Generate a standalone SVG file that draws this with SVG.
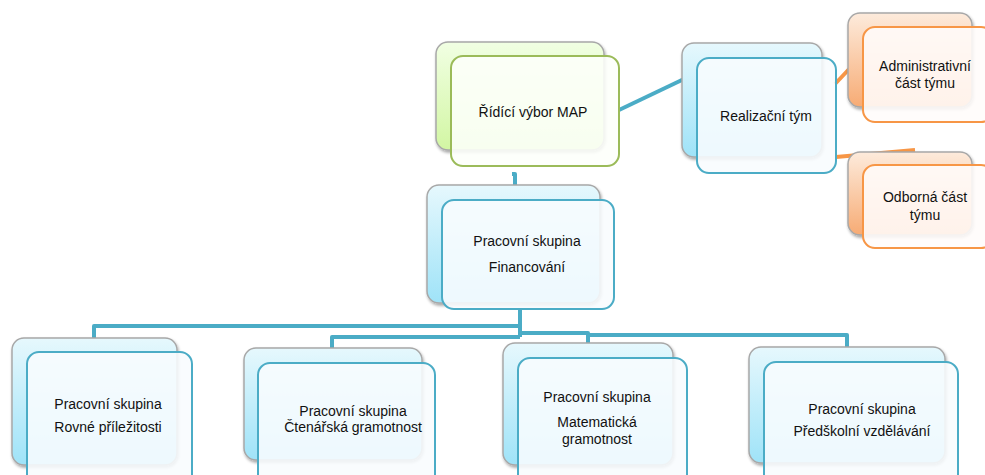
<svg xmlns="http://www.w3.org/2000/svg" width="985" height="475" viewBox="0 0 985 475">
<defs>
<linearGradient id="gBlue" x1="0" y1="0" x2="0" y2="1"><stop offset="0" stop-color="#e6f8fd"/><stop offset="1" stop-color="#9fe3f8"/></linearGradient>
<linearGradient id="gGreen" x1="0" y1="0" x2="0" y2="1"><stop offset="0" stop-color="#f1ffe3"/><stop offset="1" stop-color="#d2f6a3"/></linearGradient>
<linearGradient id="gOrange" x1="0" y1="0" x2="0" y2="1"><stop offset="0" stop-color="#fdebdc"/><stop offset="1" stop-color="#f7ab74"/></linearGradient>
<filter id="sh" x="-10%" y="-10%" width="130%" height="130%"><feDropShadow dx="1" dy="2" stdDeviation="1.5" flood-color="#000" flood-opacity="0.35"/></filter>
</defs>
<style>
.back{stroke:#a8a8a8;stroke-width:1.5;filter:url(#sh)}
.bb{fill:url(#gBlue)}
.bg{fill:url(#gGreen)}
.bo{fill:url(#gOrange)}
.front{stroke-width:2;fill-opacity:0.88}
.fb{stroke:#4BACC6;fill:#f8fcfe}
.fg{stroke:#9BBB59;fill:#fdfffa}
.fo{stroke:#F79646;fill:#fffcfa}
.conn{fill:none;stroke:#4BACC6;stroke-width:4;stroke-linejoin:round}
.oc{fill:none;stroke:#F79646;stroke-width:4}
text{font-family:"Liberation Sans",Arial,sans-serif;font-size:14px;fill:#111;text-anchor:middle}
</style>
<rect width="985" height="475" fill="#fff"/>
<g id="connectors">
<path class="conn" d="M512 174 H515 V186"/>
<path class="conn" d="M619 110 L684 79" stroke-width="5"/>
<path class="oc" d="M835 84 L852 66"/>
<path class="oc" d="M836 157 L915 150"/>
<path class="conn" d="M520 309 V337"/>
<path class="conn" d="M520 326 H94 V339"/>
<path class="conn" d="M520 337 H332 V349"/>
<path class="conn" d="M520 333 H588 V344"/>
<path class="conn" d="M588 335 H847 V348"/>
</g>
<g id="n-ridici">
<rect class="back bg" x="436" y="42" width="168" height="108" rx="12"/>
<rect class="front fg" x="451" y="56" width="168" height="110" rx="12"/>
<text x="533" y="117">Řídící výbor MAP</text>
</g>
<g id="n-realizacni">
<rect class="back bb" x="682" y="43" width="140" height="114" rx="12"/>
<rect class="front fb" x="697" y="58" width="139" height="115" rx="12"/>
<text x="766" y="121">Realizační tým</text>
</g>
<g id="n-admin">
<rect class="back bo" x="848" y="13" width="124" height="94" rx="12"/>
<rect class="front fo" x="863" y="27" width="130" height="95" rx="12"/>
<text x="925" y="71">Administrativní</text>
<text x="925" y="88">část týmu</text>
</g>
<g id="n-odborna">
<rect class="back bo" x="848" y="152" width="124" height="83" rx="12"/>
<rect class="front fo" x="863" y="165" width="130" height="83" rx="12"/>
<text x="925" y="202">Odborná část</text>
<text x="925" y="220">týmu</text>
</g>
<g id="n-financovani">
<rect class="back bb" x="427" y="185" width="173" height="118" rx="12"/>
<rect class="front fb" x="442" y="200" width="172" height="109" rx="12"/>
<text x="527" y="246">Pracovní skupina</text>
<text x="527" y="272">Financování</text>
</g>
<g id="n-rovne">
<rect class="back bb" x="12" y="338" width="165" height="127" rx="12"/>
<rect class="front fb" x="27" y="352" width="165" height="140" rx="12"/>
<text x="108" y="409">Pracovní skupina</text>
<text x="108" y="432">Rovné příležitosti</text>
</g>
<g id="n-ctenarska">
<rect class="back bb" x="244" y="348" width="178" height="112" rx="12"/>
<rect class="front fb" x="258" y="363" width="177" height="130" rx="12"/>
<text x="353" y="416">Pracovní skupina</text>
<text x="353" y="432">Čtenářská gramotnost</text>
</g>
<g id="n-matematicka">
<rect class="back bb" x="503" y="343" width="170" height="122" rx="12"/>
<rect class="front fb" x="518" y="358" width="169" height="135" rx="12"/>
<text x="597" y="402">Pracovní skupina</text>
<text x="597" y="427">Matematická</text>
<text x="597" y="444">gramotnost</text>
</g>
<g id="n-predskolni">
<rect class="back bb" x="749" y="347" width="196" height="116" rx="12"/>
<rect class="front fb" x="764" y="362" width="194" height="130" rx="12"/>
<text x="862" y="414">Pracovní skupina</text>
<text x="862" y="436">Předškolní vzdělávání</text>
</g>
</svg>
